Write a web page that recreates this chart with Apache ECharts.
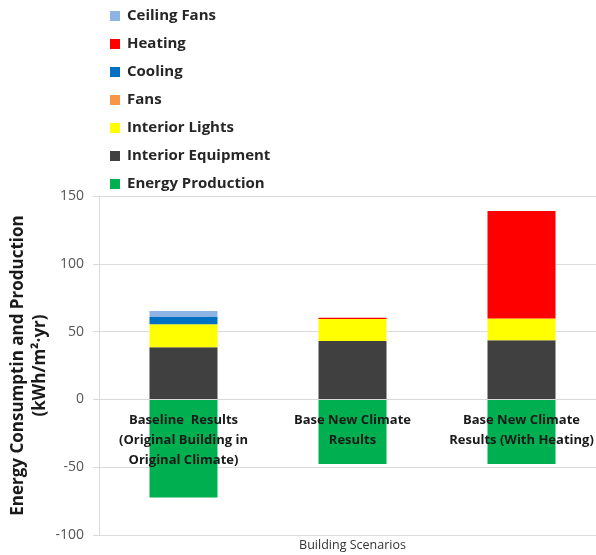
<!DOCTYPE html>
<html>
<head>
<meta charset="utf-8">
<script src="https://cdn.jsdelivr.net/npm/echarts@6/dist/echarts.min.js"></script>
<style>
  html, body { margin: 0; padding: 0; background: #fff; }
  #chart { width: 596px; height: 555px; }
</style>
</head>
<body>
<div id="chart"></div>
<script>
// Building scenarios on the category axis
const scenarios = [
  'Baseline  Results\n(Original Building in\nOriginal Climate)',
  'Base New Climate\nResults',
  'Base New Climate\nResults (With Heating)'
];

// End-use energy (kWh/m²·yr), stacked from the bottom up
const interiorEquipment = [38.5, 43.0, 43.6];
const interiorLights    = [17.0, 16.2, 16.1];
const fans              = [0, 0, 0];
const cooling           = [5.2, 0, 0];
const heating           = [0, 1.0, 79.3];
const ceilingFans       = [4.4, 0, 0];
const energyProduction  = [-72.3, -47.6, -47.6];

const yTicks = { min: -100, max: 150, interval: 50 };

const yTitle = 'Energy Consumptin and Production\n(kWh/m²·yr)';
const xTitle = 'Building Scenarios';

const FONT = '"Open Sans", Lato, sans-serif';

const GRID = { left: 99, top: 196, width: 507, height: 339 };
// the category axis sits on the zero line
const zeroFromBottom = GRID.height * (0 - yTicks.min) / (yTicks.max - yTicks.min);

const makeSeries = (name, data, color) => ({
  name,
  type: 'bar',
  stack: 'energy',
  data,
  barWidth: 68,
  itemStyle: { color },
  emphasis: { disabled: true }
});

const series = [
  makeSeries('Energy Production', energyProduction, '#00B050'),
  makeSeries('Interior Equipment', interiorEquipment, '#404040'),
  makeSeries('Interior Lights', interiorLights, '#FFFF00'),
  makeSeries('Fans', fans, '#F79646'),
  makeSeries('Cooling', cooling, '#0070C0'),
  makeSeries('Heating', heating, '#FF0000'),
  makeSeries('Ceiling Fans', ceilingFans, '#8EB4E3')
];

const chart = echarts.init(document.getElementById('chart'), null, { renderer: 'canvas' });

chart.setOption({
  animation: false,
  backgroundColor: '#ffffff',
  legend: {
    orient: 'vertical',
    left: 105,
    top: 2,
    itemWidth: 10,
    itemHeight: 10,
    itemGap: 10,
    icon: 'rect',
    data: ['Ceiling Fans', 'Heating', 'Cooling', 'Fans', 'Interior Lights', 'Interior Equipment', 'Energy Production'],
    textStyle: { fontFamily: FONT, fontSize: 15, fontWeight: 'bold', color: '#262626', lineHeight: 18, padding: [0, 0, 0, 2] }
  },
  grid: Object.assign({ containLabel: false, outerBoundsMode: 'none' }, GRID),
  xAxis: {
    type: 'category',
    data: scenarios,
    z: 10,
    offset: -zeroFromBottom,
    axisLine: { onZero: false, lineStyle: { color: '#d9d9d9' } },
    axisTick: { show: false },
    axisLabel: {
      interval: 0,
      margin: 11,
      fontFamily: FONT,
      fontSize: 13,
      fontWeight: 'bold',
      color: '#1a1a1a',
      lineHeight: 20
    }
  },
  yAxis: {
    type: 'value',
    min: yTicks.min,
    max: yTicks.max,
    interval: yTicks.interval,
    axisLine: { show: true, lineStyle: { color: '#d9d9d9' } },
    axisTick: { show: true, length: 6, lineStyle: { color: '#d9d9d9' } },
    axisLabel: { fontFamily: FONT, fontSize: 14, color: '#555555', margin: 15 },
    splitLine: { lineStyle: { color: '#dcdcdc' } }
  },
  graphic: [
    {
      type: 'text',
      x: 29,
      y: GRID.top + GRID.height / 2,
      rotation: Math.PI / 2,
      style: {
        text: yTitle, fontFamily: FONT, fontSize: 17, fontWeight: 'bold', fill: '#1a1a1a',
        lineHeight: 22, align: 'center', verticalAlign: 'middle'
      }
    },
    {
      type: 'text',
      x: GRID.left + GRID.width / 2,
      y: 545,
      style: { text: xTitle, fontFamily: FONT, fontSize: 12.5, fill: '#333333', align: 'center', verticalAlign: 'middle' }
    }
  ],
  series
});
</script>
</body>
</html>
